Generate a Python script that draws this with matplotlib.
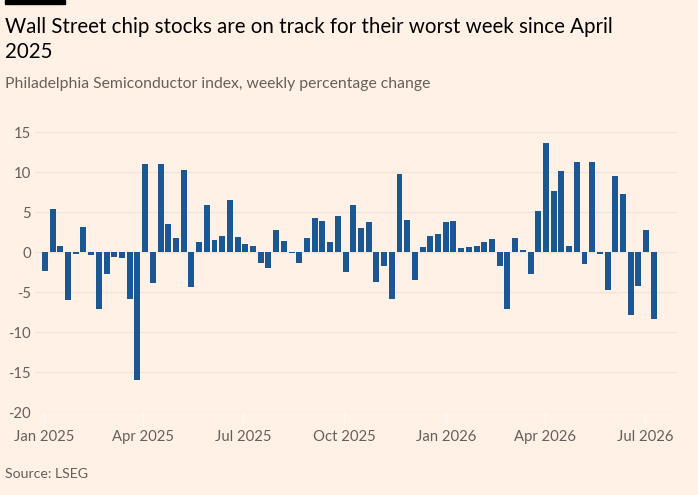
import numpy as np
import pandas as pd
import matplotlib
matplotlib.use("Agg")
import matplotlib.pyplot as plt
import matplotlib.dates as mdates
from matplotlib.patches import Rectangle

# ---- data ----
start_date = "2025-01-02"
weekly_change = [
    -2.4, 5.4, 0.7, -6.0, -0.2, 3.1, -0.4, -7.1, -2.8, -0.6,
    -0.8, -5.9, -16.0, 11.0, -3.9, 11.0, 3.5, 1.7, 10.3, -4.4,
    1.2, 5.9, 1.5, 2.0, 6.5, 1.9, 1.0, 0.7, -1.4, -2.0,
    2.8, 1.4, -0.1, -1.4, 1.7, 4.2, 3.9, 1.3, 4.5, -2.5,
    5.9, 3.0, 3.7, -3.8, -1.8, -5.9, 9.8, 4.0, -3.5, 0.6,
    2.0, 2.3, 3.7, 3.9, 0.5, 0.6, 0.7, 1.2, 1.6, -1.8,
    -7.1, 1.8, 0.3, -2.7, 5.1, 13.6, 7.6, 10.1, 0.8, 11.2,
    -1.5, 11.2, -0.3, -4.7, 9.5, 7.3, -7.9, -4.3, 2.8, -8.4,
]
y_ticks = [15, 10, 5, 0, -5, -10, -15, -20]
x_tick_dates = ["2025-01-01", "2025-04-01", "2025-07-01", "2025-10-01",
                "2026-01-01", "2026-04-01", "2026-07-01"]

title_lines = ["Wall Street chip stocks are on track for their worst week since April",
               "2025"]
subtitle = "Philadelphia Semiconductor index, weekly percentage change"
source = "Source: LSEG"

# ---- style ----
BG = "#FFF1E5"
BAR = "#1B5893"
GRID = "#F0E5DB"
TXT = "#66605C"
FONT = ["Lato", "DejaVu Sans"]
plt.rcParams["font.family"] = FONT

W, H = 698, 495
fig = plt.figure(figsize=(W / 100, H / 100), dpi=100, facecolor=BG)

# axes placement in pixels
left_px, right_px = 35, 677
top_px, bottom_px = 124, 412
ax = fig.add_axes([left_px / W, 1 - bottom_px / H,
                   (right_px - left_px) / W, (bottom_px - top_px) / H])
ax.set_facecolor(BG)

dates = pd.date_range(start_date, periods=len(weekly_change), freq="7D")
ax.bar(dates, weekly_change, width=5.4, color=BAR, edgecolor="none", zorder=3)

ax.set_ylim(-20, 16)
ax.set_yticks(y_ticks)
ax.set_yticklabels([str(v) for v in y_ticks])
ax.set_xlim(pd.Timestamp("2024-12-24"), pd.Timestamp("2026-07-30"))
xt = pd.to_datetime(x_tick_dates)
ax.set_xticks(xt)
ax.set_xticklabels([d.strftime("%b %Y") for d in xt])

ax.grid(axis="y", color=GRID, linewidth=1, zorder=0)
for s in ax.spines.values():
    s.set_visible(False)
ax.tick_params(axis="y", length=0, labelsize=10.7, labelcolor=TXT, pad=3)
ax.tick_params(axis="x", length=11, width=1, color="#FFF8F2", direction="out",
               labelsize=10.7, labelcolor=TXT, pad=2)

# texts
for i, line in enumerate(title_lines):
    fig.text(5 / W, 1 - (33 + 25 * i) / H, line, ha="left", va="baseline",
             fontsize=14.8, color="#000000")
fig.text(5 / W, 1 - 84 / H, subtitle, ha="left", va="center", fontsize=11.3,
         color=TXT)
fig.text(5 / W, 1 - 474 / H, source, ha="left", va="center", fontsize=10.2,
         color=TXT)
fig.patches.append(Rectangle((5 / W, 1 - 4 / H), 60 / W, 4 / H,
                             transform=fig.transFigure, color="#000000",
                             figure=fig))

fig.savefig("out.png", dpi=100, facecolor=BG)
